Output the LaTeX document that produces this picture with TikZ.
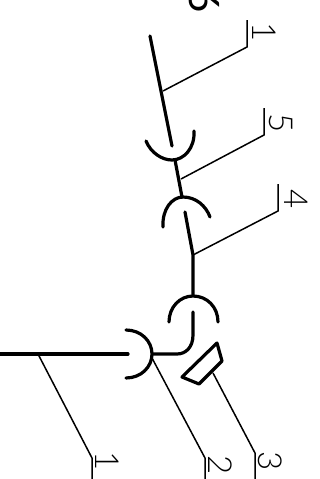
\documentclass[tikz,border=0pt]{standalone}
\usepackage{fontspec}
\setmainfont{Lato Light}
\newfontfamily\heavyfont{Lato}
\tikzset{
  pipe/.style={line width=3.2pt,line cap=round},
  cup/.style={line width=3.2pt,line cap=round},
  leader/.style={line width=1.5pt},
  num/.style={inner sep=0pt,rotate=-90,font=\fontsize{33}{33}\selectfont},
  bignum/.style={inner sep=0pt,rotate=-90,font=\heavyfont\fontsize{42}{42}\selectfont}
}
\begin{document}
\begin{tikzpicture}[x=1pt,y=-1pt]
  \useasboundingbox (0,0) rectangle (320,479);
  \coordinate (a0) at (150,36);
  \coordinate (a1) at (172,146);
  \coordinate (b0) at (175,160);
  \coordinate (b1) at (182,197);
  \coordinate (c0) at (185,212);
  \coordinate (c1) at (193,255);
  \coordinate (c2) at (193,295);
  \coordinate (d0) at (193,312);
  \coordinate (d1) at (153,354);
  \coordinate (e0) at (128,354);
  \coordinate (e1) at (0,354);
  \coordinate (f1) at (163,91);
  \coordinate (f5) at (181,179);
  \coordinate (f1b) at (38,354);
  \coordinate (f2) at (152,358);
  \coordinate (f3) at (213,373);
  \coordinate (k1) at (247,47);
  \coordinate (k5) at (264,135);
  \coordinate (k4) at (278,211);
  \coordinate (k1b) at (92,458);
  \coordinate (k2) at (205,458);
  \coordinate (k3) at (255,453);
  \node[num] (n1) at (264,32) {1};
  \node[num] (n5) at (281,123) {5};
  \node[num] (n4) at (296,199) {4};
  \node[bignum] (n6) at (204,1) {6};
  \node[num] (n1b) at (107,461) {1};
  \node[num] (n2) at (220,465) {2};
  \node[num] (n3) at (270,461) {3};
  % pipes
  \draw[pipe] (a0) -- (a1);
  \draw[pipe] (b0) -- (b1);
  \draw[pipe] (c0) -- (c1) -- (c2);
  \draw[pipe] (d0) -- (193,335) .. controls (193,347) and (186,354) .. (177,354) -- (d1);
  \draw[pipe] (e0) -- (e1);
  % cups
  \draw[cup] (146,141) .. controls (151,153) and (162,160) .. (172,160) .. controls (184,160) and (195,148) .. (194,131);
  \draw[cup] (163,227) .. controls (162,209) and (172,197) .. (183,197) .. controls (196,197) and (206,206) .. (210,217);
  \draw[cup] (169,322) .. controls (169,307) and (180,296) .. (193,296) .. controls (207,296) and (218,307) .. (218,322);
  \draw[cup] (126,330) .. controls (141,330) and (152,341) .. (152,354) .. controls (152,367) and (141,378) .. (126,378);
  % seat
  \draw[cup,line join=round] (217,343) -- (222,361) -- (199,384) -- (182,377) -- cycle;
  % leaders
  \draw[leader] (f1) -- (k1) -- (247,20);
  \draw[leader] (f5) -- (k5) -- (264,108);
  \draw[leader] (c1) -- (k4) -- (278,184);
  \draw[leader] (f1b) -- (k1b) -- (92,479);
  \draw[leader] (f2) -- (k2) -- (205,479);
  \draw[leader] (f3) -- (k3) -- (255,479);
\end{tikzpicture}
\end{document}
